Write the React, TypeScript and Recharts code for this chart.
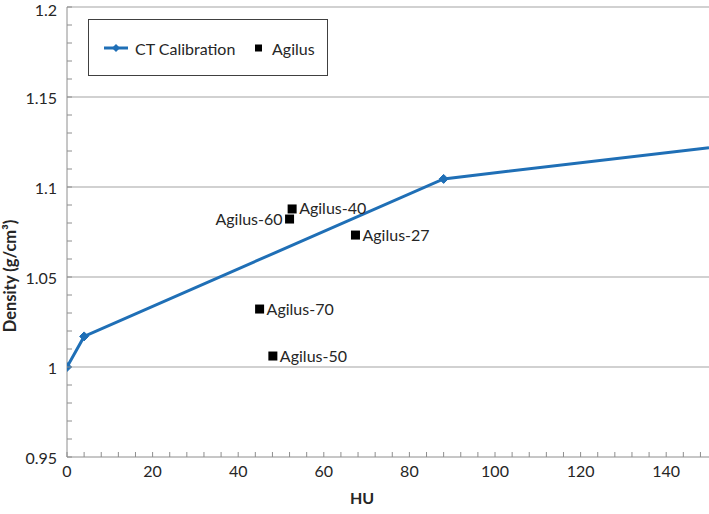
import React from 'react';
import {
  ComposedChart,
  Line,
  Scatter,
  XAxis,
  YAxis,
  ReferenceLine,
  Legend,
} from 'recharts';

const ctData = [
  { x: 0, y: 1.0 },
  { x: 4, y: 1.017 },
  { x: 88, y: 1.1045 },
  { x: 150, y: 1.1218 },
];

const agilusData = [
  { x: 52.6, y: 1.0878, name: 'Agilus-40' },
  { x: 52.0, y: 1.0822, name: 'Agilus-60' },
  { x: 67.4, y: 1.0733, name: 'Agilus-27' },
  { x: 45.0, y: 1.0322, name: 'Agilus-70' },
  { x: 48.1, y: 1.0061, name: 'Agilus-50' },
];

const leftLabelNames = ['Agilus-60'];

const xTicks = [
  0, 4, 8, 12, 16, 20, 24, 28, 32, 36, 40, 44, 48, 52, 56, 60, 64, 68, 72, 76,
  80, 84, 88, 92, 96, 100, 104, 108, 112, 116, 120, 124, 128, 132, 136, 140,
  144, 148,
];
const xMajorTicks = [0, 20, 40, 60, 80, 100, 120, 140];

const yTicks = [
  0.95, 0.96, 0.97, 0.98, 0.99, 1.0, 1.01, 1.02, 1.03, 1.04, 1.05, 1.06, 1.07,
  1.08, 1.09, 1.1, 1.11, 1.12, 1.13, 1.14, 1.15, 1.16, 1.17, 1.18, 1.19, 1.2,
];
const yMajorTicks = [0.95, 1.0, 1.05, 1.1, 1.15, 1.2];
const yGridLines = [1.0, 1.05, 1.1, 1.15, 1.2];

const LINE_COLOR = '#1F6FB6';
const AXIS_COLOR = '#8E8E8E';
const GRID_COLOR = '#A3A3A3';
const TEXT_COLOR = '#262626';
const FONT = 'Lato, "Open Sans", sans-serif';

const XTick = (props: any) => {
  const { x, y, payload } = props;
  const v = payload.value;
  const major = xMajorTicks.includes(v);
  return (
    <g>
      <line x1={x} x2={x} y1={y} y2={y - 5} stroke={AXIS_COLOR} strokeWidth={1} />
      {major && (
        <text
          x={x}
          y={y + 20}
          textAnchor="middle"
          fontSize={16}
          fill={TEXT_COLOR}
          fontFamily={FONT}
        >
          {v}
        </text>
      )}
    </g>
  );
};

const YTick = (props: any) => {
  const { x, y, payload } = props;
  const v = payload.value;
  const major = yMajorTicks.some((m) => Math.abs(m - v) < 1e-6);
  return (
    <g>
      <line x1={x} x2={x + 5} y1={y} y2={y} stroke={AXIS_COLOR} strokeWidth={1} />
      {major && (
        <text
          x={x - 10}
          y={Math.max(y, 9.5)}
          textAnchor="end"
          dominantBaseline="central"
          fontSize={16}
          fill={TEXT_COLOR}
          fontFamily={FONT}
        >
          {String(Number(v.toFixed(2)))}
        </text>
      )}
    </g>
  );
};

const DiamondDot = (props: any) => {
  const { cx, cy, index } = props;
  if (index === ctData.length - 1 || cx == null || cy == null) {
    return <g key={`d-${index}`} />;
  }
  const r = 4.5;
  return (
    <path
      key={`d-${index}`}
      d={`M${cx},${cy - r} L${cx + r},${cy} L${cx},${cy + r} L${cx - r},${cy} Z`}
      fill={LINE_COLOR}
      stroke={LINE_COLOR}
    />
  );
};

const SquareShape = (props: any) => {
  const { cx, cy, payload } = props;
  const s = 9;
  const left = leftLabelNames.includes(payload.name);
  return (
    <g>
      <rect x={cx - s / 2} y={cy - s / 2} width={s} height={s} fill="#000" />
      <text
        x={left ? cx - 7 : cx + 7}
        y={cy - 1}
        textAnchor={left ? 'end' : 'start'}
        dominantBaseline="central"
        fontSize={16}
        fill={TEXT_COLOR}
        fontFamily={FONT}
      >
        {payload.name}
      </text>
    </g>
  );
};

const LegendBox = () => (
  <div
    style={{
      boxSizing: 'border-box',
      width: 240,
      height: 57,
      border: '1.5px solid #404040',
      background: '#fff',
      fontFamily: FONT,
      fontSize: 16,
      color: TEXT_COLOR,
      position: 'relative',
    }}
  >
    <svg
      width={240}
      height={57}
      style={{ position: 'absolute', left: -1.5, top: -1.5 }}
    >
      <line x1={16} x2={40} y1={29} y2={29} stroke={LINE_COLOR} strokeWidth={3} />
      <path d="M28,25 L32,29 L28,33 L24,29 Z" fill={LINE_COLOR} />
      <text x={47} y={29} dominantBaseline="central" fontSize={16} fill={TEXT_COLOR} fontFamily={FONT}>
        CT Calibration
      </text>
      <rect x={167} y={25.5} width={7} height={7} fill="#000" />
      <text x={184} y={29} dominantBaseline="central" fontSize={16} fill={TEXT_COLOR} fontFamily={FONT}>
        Agilus
      </text>
    </svg>
  </div>
);

export default function App() {
  return (
    <div style={{ position: 'absolute', left: 0, top: 0, background: '#fff' }}>
      <ComposedChart
        width={709}
        height={514}
        margin={{ top: 7, right: 0, bottom: 10, left: 10 }}
        style={{ fontFamily: FONT }}
      >
        <XAxis
          type="number"
          dataKey="x"
          domain={[0, 150]}
          ticks={xTicks}
          interval={0}
          tick={<XTick />}
          tickLine={false}
          tickSize={0}
          tickMargin={0}
          height={47}
          axisLine={{ stroke: AXIS_COLOR, strokeWidth: 1 }}
          allowDataOverflow
          label={{
            value: 'HU',
            position: 'insideBottom',
            dx: -26,
            dy: 5,
            fontSize: 16,
            fontWeight: 700,
            fill: TEXT_COLOR,
            fontFamily: FONT,
          }}
        />
        <YAxis
          type="number"
          dataKey="y"
          domain={[0.95, 1.2]}
          ticks={yTicks}
          interval={0}
          tick={<YTick />}
          tickLine={false}
          tickSize={0}
          tickMargin={0}
          width={57}
          axisLine={{ stroke: AXIS_COLOR, strokeWidth: 1 }}
          allowDataOverflow
          label={{
            value: 'Density (g/cm³)',
            angle: -90,
            position: 'insideLeft',
            dx: -5,
            dy: 44,
            fontSize: 16.5,
            fontWeight: 700,
            fill: TEXT_COLOR,
            fontFamily: FONT,
            style: { textAnchor: 'middle' },
          }}
        />
        {yGridLines.map((v) => (
          <ReferenceLine key={v} y={v} stroke={GRID_COLOR} strokeWidth={1} />
        ))}
        <Line
          data={ctData}
          dataKey="y"
          name="CT Calibration"
          type="linear"
          stroke={LINE_COLOR}
          strokeWidth={3}
          dot={<DiamondDot />}
          activeDot={false}
          isAnimationActive={false}
        />
        <Scatter
          data={agilusData}
          dataKey="y"
          name="Agilus"
          shape={<SquareShape />}
          isAnimationActive={false}
        />
        <Legend
          layout="horizontal"
          verticalAlign="middle"
          align="center"
          wrapperStyle={{ left: 88, top: 19, width: 240, height: 57 }}
          content={<LegendBox />}
        />
      </ComposedChart>
    </div>
  );
}
